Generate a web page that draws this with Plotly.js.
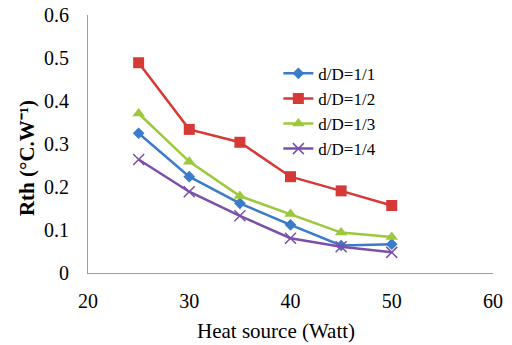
<!DOCTYPE html>
<html>
<head>
<meta charset="utf-8">
<script src="https://cdn.plot.ly/plotly-3.0.1.min.js"></script>
<style>html,body{margin:0;padding:0;background:#fff;}#chart{width:512px;height:345px;}</style>
</head>
<body>
<div id="chart"></div>
<script>
const heatSource = [25, 30, 35, 40, 45, 50];
const seriesNames = ["d/D=1/1", "d/D=1/2", "d/D=1/3", "d/D=1/4"];
const rth_1_1 = [0.325, 0.224, 0.162, 0.112, 0.064, 0.067];
const rth_1_2 = [0.489, 0.334, 0.304, 0.224, 0.191, 0.157];
const rth_1_3 = [0.371, 0.259, 0.179, 0.137, 0.094, 0.084];
const rth_1_4 = [0.264, 0.189, 0.133, 0.081, 0.061, 0.048];
const xTicks = [20, 30, 40, 50, 60];
const yTicks = [0, 0.1, 0.2, 0.3, 0.4, 0.5, 0.6];
const xTitle = "Heat source (Watt)";
const yTitle = "Rth (°C.W⁻¹)";

const colors = ["#3A7CC8", "#D63A36", "#9DC83C", "#7B4FA8"];
const symbols = ["diamond", "square", "triangle-up", "x-thin-open"];
const sizes = [9, 11, 11, 11];
const allY = [rth_1_1, rth_1_2, rth_1_3, rth_1_4];

const traces = allY.map((y, i) => ({
  x: heatSource, y: y, name: seriesNames[i], type: "scatter", mode: "lines+markers",
  line: {color: colors[i], width: 2.5},
  marker: {symbol: symbols[i], size: sizes[i], color: colors[i], line: {color: colors[i], width: i === 3 ? 1.5 : 0}}
}));

const fam = "Liberation Serif, Times New Roman, serif";
const font = {family: fam, color: "#000", size: 20};
const legFont = {family: fam, color: "#000", size: 17};
const layout = {
  width: 512, height: 345,
  margin: {l: 88, r: 19, t: 15, b: 72},
  paper_bgcolor: "#fff", plot_bgcolor: "#fff",
  font: font,
  showlegend: true,
  legend: {x: 0.47, y: 0.842, xanchor: "left", yanchor: "top", bgcolor: "rgba(0,0,0,0)", font: legFont, tracegroupgap: 0},
  xaxis: {
    range: [20, 60], tickvals: xTicks, ticktext: xTicks.map(String),
    showgrid: false, zeroline: false, showline: true, linecolor: "#a0a0a0", linewidth: 1,
    ticks: "", ticklen: 0, tickfont: font, ticklabelstandoff: 10
  },
  yaxis: {
    range: [0, 0.6], tickvals: yTicks, ticktext: yTicks.map(v => String(v)),
    showgrid: false, zeroline: false, showline: true, linecolor: "#a0a0a0", linewidth: 1,
    ticks: "", ticklen: 0, tickfont: font, ticklabelstandoff: 14
  },
  annotations: [
    {text: xTitle, xref: "paper", yref: "paper", x: 0.465, y: -0.225, xanchor: "center", yanchor: "middle",
     showarrow: false, font: {family: fam, color: "#000", size: 21}},
    {text: "<b>" + yTitle + "</b>", xref: "paper", yref: "paper", x: -0.149, y: 0.444, xanchor: "center", yanchor: "middle",
     textangle: -90, showarrow: false, font: {family: fam, color: "#000", size: 21}}
  ]
};
Plotly.newPlot("chart", traces, layout, {displayModeBar: false, staticPlot: true});
</script>
</body>
</html>
